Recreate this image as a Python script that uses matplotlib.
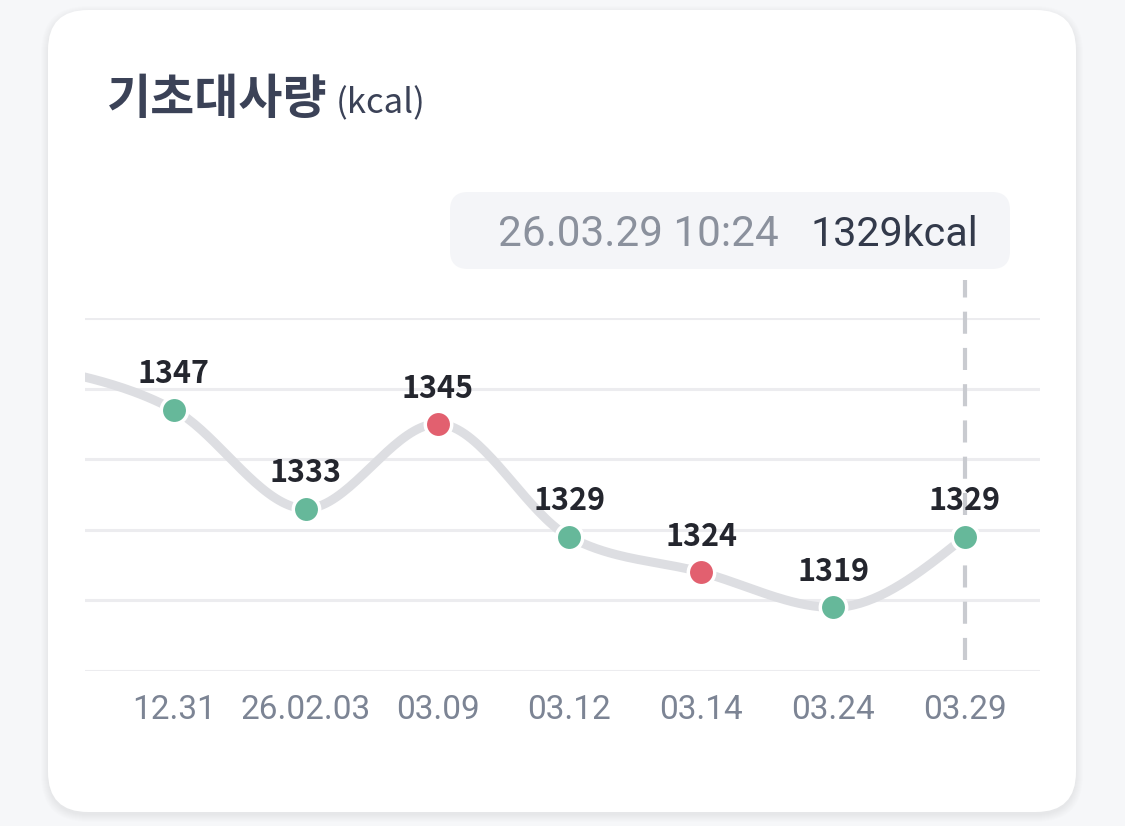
import numpy as np
import matplotlib
matplotlib.use("Agg")
import matplotlib.pyplot as plt
from matplotlib.patches import FancyBboxPatch
import matplotlib.transforms as mtransforms

plt.rcParams['font.family'] = ['Noto Sans CJK KR', 'DejaVu Sans']

# data: first value is the reading before 12.31, partly visible at the left edge
dates = ["", "12.31", "26.02.03", "03.09", "03.12", "03.14", "03.24", "03.29"]
values = [1353, 1347, 1333, 1345, 1329, 1324, 1319, 1329]
status = ["up", "down", "down", "up", "down", "up", "down", "down"]  # colour of the dot
tooltip_date = "26.03.29 10:24"
tooltip_value = "1329kcal"
y_ticks = [1310, 1320, 1330, 1340, 1350, 1360]

GREEN = "#66b89a"
RED = "#e2606f"
LINE = "#dddee2"
GRID = "#ececef"


def monotone_curve(x, y, n=40):
    # same idea as d3.curveMonotoneX (Fritsch-Carlson tangents)
    x = np.asarray(x, float)
    y = np.asarray(y, float)
    h = np.diff(x)
    s = np.diff(y) / h
    m = np.zeros_like(y)
    for i in range(1, len(y) - 1):
        if s[i - 1] * s[i] <= 0:
            m[i] = 0
        else:
            p = (s[i - 1] * h[i] + s[i] * h[i - 1]) / (h[i - 1] + h[i])
            m[i] = np.sign(s[i]) * min(abs(s[i - 1]), abs(s[i]), 0.5 * abs(p)) * 2
    m[0] = (3 * s[0] - m[1]) / 2
    m[-1] = (3 * s[-1] - m[-2]) / 2
    xs, ys = [], []
    for i in range(len(h)):
        t = np.linspace(0, 1, n)
        h00 = 2 * t**3 - 3 * t**2 + 1
        h10 = t**3 - 2 * t**2 + t
        h01 = -2 * t**3 + 3 * t**2
        h11 = t**3 - t**2
        xs.append(x[i] + t * h[i])
        ys.append(h00 * y[i] + h10 * h[i] * m[i] + h01 * y[i + 1] + h11 * h[i] * m[i + 1])
    return np.concatenate(xs), np.concatenate(ys)


W, H = 1125, 826
fig = plt.figure(figsize=(W / 100, H / 100), dpi=100)
fig.patch.set_facecolor("#f6f7f9")

# background layer in pixel coordinates
bg = fig.add_axes([0, 0, 1, 1])
bg.set_xlim(0, W)
bg.set_ylim(H, 0)
bg.axis("off")

for k in range(8):
    bg.add_patch(FancyBboxPatch((48 - k, 10 - k + 3), 1028 + 2 * k, 802 + 2 * k,
                                boxstyle="round,pad=0,rounding_size=%d" % (40 + k),
                                fc="#000000", ec="none", alpha=0.006))
bg.add_patch(FancyBboxPatch((48, 10), 1028, 802, boxstyle="round,pad=0,rounding_size=40",
                            fc="white", ec="none"))

bg.text(107, 114, "기초대사량", fontsize=34.5, fontweight="bold", color="#3b4257", va="baseline")
bg.text(336, 113, "(kcal)", fontsize=25, color="#3b4257", va="baseline")

bg.add_patch(FancyBboxPatch((450, 192), 560, 77, boxstyle="round,pad=0,rounding_size=18",
                            fc="#f4f5f8", ec="none"))
bg.text(498, 246, tooltip_date, fontsize=30.4, family=["Roboto", "DejaVu Sans"],
        color="#8b919d", va="baseline")
bg.text(811, 246, tooltip_value, fontsize=29.7, family=["Roboto", "DejaVu Sans"],
        color="#333a4b", va="baseline")

# chart
ax = fig.add_axes([85 / W, (H - 671) / H, (1040 - 85) / W, (671 - 318) / H])
ax.patch.set_alpha(0)
x = np.arange(len(values)) - 1
ax.set_xlim(-0.675, 6.57)
ax.set_ylim(y_ticks[0], y_ticks[-1])
for sp in ax.spines.values():
    sp.set_visible(False)
ax.set_xticks([])
ax.set_yticks(y_ticks)
ax.tick_params(left=False, labelleft=False)
ax.grid(axis="y", color=GRID, lw=2.2)
ax.set_axisbelow(True)

cx, cy = monotone_curve(x, values)
ax.plot(cx, cy, color=LINE, lw=6.5, solid_capstyle="round", zorder=2)

ax.axvline(x[-1], ymin=0.031, ymax=1.108, color="#c9cbd0", lw=3, ls=(0, (5.3, 3.4)),
           clip_on=False, zorder=1.5)

trans = mtransforms.blended_transform_factory(ax.transData, ax.transAxes)
for xi, v, st, d in zip(x, values, status, dates):
    if xi < 0:
        continue
    ax.plot(xi, v, "o", ms=19, mfc=GREEN if st == "down" else RED, mec="white", mew=2.5,
            zorder=4)
    ax.annotate(str(v), (xi, v), xytext=(0, 19), textcoords="offset points",
                ha="center", va="baseline", fontsize=22, fontweight="bold",
                color="#24262e", zorder=5, annotation_clip=False)
    ax.text(xi, (671 - 719) / 353, d, transform=trans, ha="center", va="baseline",
            fontsize=24, family=["Roboto", "DejaVu Sans"], color="#7c8494")

fig.savefig("out.png", dpi=100, facecolor=fig.get_facecolor())
